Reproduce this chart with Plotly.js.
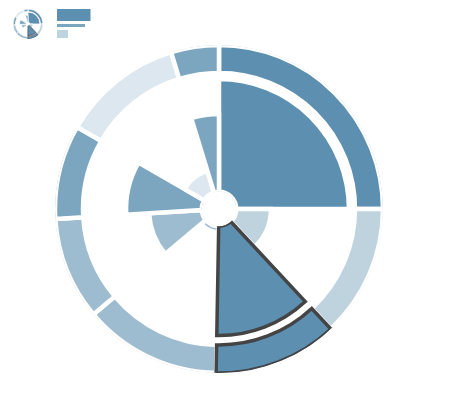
<!DOCTYPE html>
<html>
<head>
<meta charset="utf-8">
<script src="https://cdn.plot.ly/plotly-3.0.1.min.js"></script>
<style>html,body{margin:0;padding:0;background:#fff;}#chart{width:453px;height:420px;}</style>
</head>
<body>
<div id="chart"></div>
<script>
// Categories (sectors, clockwise from north)
const categories = ['A', 'B', 'C', 'D', 'E', 'F', 'G', 'H'];
// Angular start of each sector (degrees, clockwise from north)
const sectorStart = [0, 90, 137, 181, 230, 266.5, 300, 343];
// Angular width of each sector (degrees)
const sectorWidth = [90, 47, 44, 49, 36.5, 33.5, 43, 17];
// Inner bar values (radial length)
const innerValues = [76.8, 23.7, 74.5, 4.0, 36, 51.6, 15.5, 53];
// Outer ring: base and top
const ringBase = 80.9;
const ringTop = 100;
// Colours per category
const colors = ['#5d90b0', '#bfd3df', '#5d90b0', '#9ebcd0', '#9ebcd0', '#7ca6c0', '#dde7ef', '#7ca6c0'];
const highlightIndex = 2;
// Mini legend bars
const legendValues = [34, 28.3, 11.6];
const legendPos = [15.2, 25.7, 34];
const legendThickness = [12.3, 3.3, 8];
const legendColors = ['#5d90b0', '#7ca6c0', '#bfd3df'];

const thetaCenters = sectorStart.map((s, i) => s + sectorWidth[i] / 2);
const ringR = categories.map(() => ringTop - ringBase);
const ringB = categories.map(() => ringBase);

function polarTraces(sub, lw, hlw) {
  const h = highlightIndex;
  return [
    {type: 'barpolar', subplot: sub, r: innerValues, theta: thetaCenters, width: sectorWidth,
     marker: {color: colors, line: {color: '#ffffff', width: lw}}, hoverinfo: 'skip', showlegend: false},
    {type: 'barpolar', subplot: sub, r: ringR, base: ringB, theta: thetaCenters, width: sectorWidth,
     marker: {color: colors, line: {color: '#ffffff', width: lw}}, hoverinfo: 'skip', showlegend: false},
    {type: 'barpolar', subplot: sub, r: [innerValues[h]], theta: [thetaCenters[h]], width: [sectorWidth[h]],
     marker: {color: colors[h], line: {color: '#444444', width: hlw}}, hoverinfo: 'skip', showlegend: false},
    {type: 'barpolar', subplot: sub, r: [ringR[h]], base: [ringB[h]], theta: [thetaCenters[h]], width: [sectorWidth[h]],
     marker: {color: colors[h], line: {color: '#444444', width: hlw}}, hoverinfo: 'skip', showlegend: false}
  ];
}

const data = polarTraces('polar', 4.5, 3.5).concat(polarTraces('polar2', 0.8, 0.6)).concat([
  {type: 'bar', orientation: 'h', x: legendValues, y: legendPos, width: legendThickness,
   marker: {color: legendColors, line: {width: 0}}, xaxis: 'x', yaxis: 'y', hoverinfo: 'skip', showlegend: false}
]);

const W = 453, H = 420;
function polarLayout(cx, cy, R, hole) {
  return {
    domain: {x: [(cx - R) / W, (cx + R) / W], y: [(H - cy - R) / H, (H - cy + R) / H]},
    bgcolor: 'rgba(0,0,0,0)',
    hole: hole,
    barmode: 'overlay',
    radialaxis: {visible: false, range: [0, 100]},
    angularaxis: {visible: false, rotation: 90, direction: 'clockwise'}
  };
}

const layout = {
  width: W, height: H,
  margin: {l: 0, r: 0, t: 0, b: 0},
  paper_bgcolor: '#ffffff', plot_bgcolor: 'rgba(0,0,0,0)',
  showlegend: false,
  bargap: 0,
  polar: polarLayout(219, 209, 164, 0.105),
  polar2: polarLayout(28, 24, 15, 0.12),
  xaxis: {domain: [56.5 / W, 90.5 / W], range: [0, 34], visible: false, fixedrange: true},
  yaxis: {domain: [(H - 39) / H, (H - 9) / H], range: [39, 9], visible: false, fixedrange: true}
};

Plotly.newPlot('chart', data, layout, {displayModeBar: false, staticPlot: true});
</script>
</body>
</html>
